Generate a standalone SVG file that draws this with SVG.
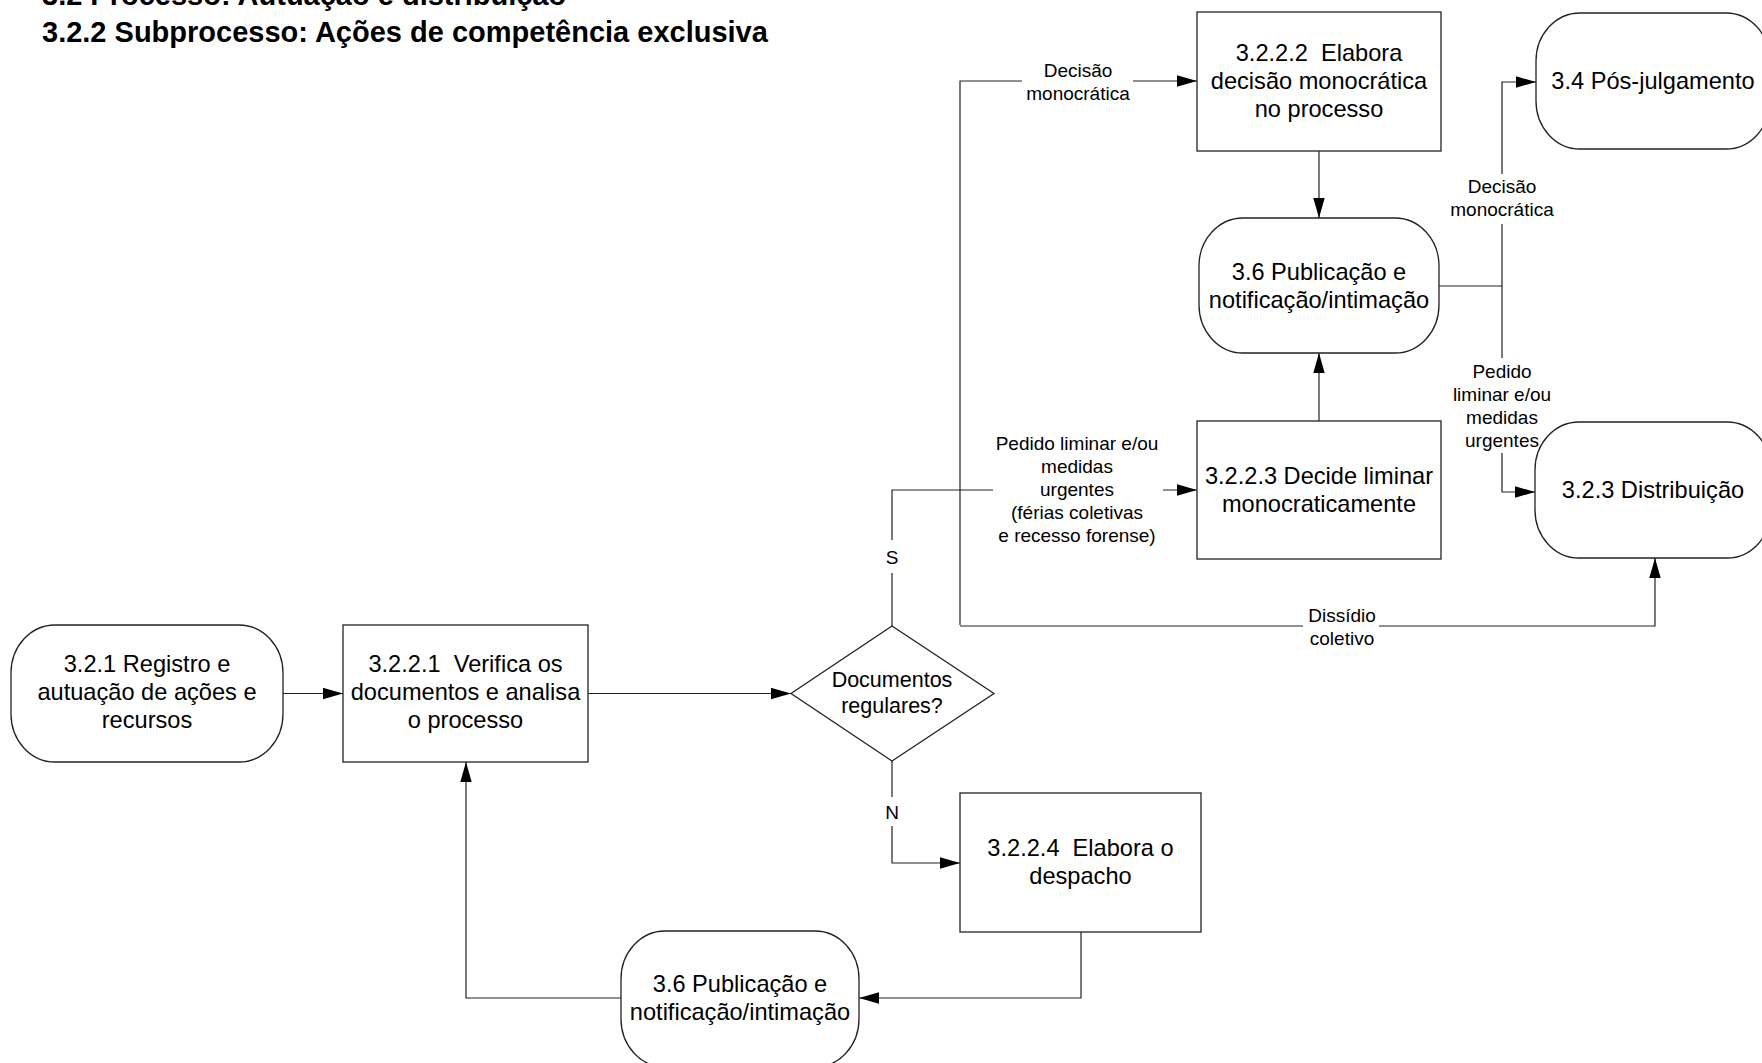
<svg xmlns="http://www.w3.org/2000/svg" width="1762" height="1063" viewBox="0 0 1762 1063">
<defs>
<style>
.node{fill:#fff;stroke:#222;stroke-width:1.3}
.t{font-family:"Liberation Sans",Arial,sans-serif;font-size:23.6px;fill:#000;text-anchor:middle}
.td{font-family:"Liberation Sans",Arial,sans-serif;font-size:21.5px;fill:#000;text-anchor:middle}
.lb{font-family:"Liberation Sans",Arial,sans-serif;font-size:19px;fill:#000;text-anchor:middle}
.title{font-family:"Liberation Sans",Arial,sans-serif;font-size:29px;font-weight:bold;fill:#000}
.c{fill:none;stroke:#222;stroke-width:1.2}
</style>
<marker id="arr" markerUnits="userSpaceOnUse" markerWidth="20" markerHeight="12" refX="20" refY="6" orient="auto">
<path d="M0,0.3 L20,6 L0,11.7 z" fill="#000"/>
</marker>
</defs>
<rect width="1762" height="1063" fill="#fff"/>
<g id="title">
<text class="title" x="42" y="5">3.2 Processo: Autuação e distribuição</text>
<text class="title" x="42" y="42">3.2.2 Subprocesso: Ações de competência exclusiva</text>
</g>
<g id="connectors">
<path class="c" d="M283,693.5 H343" marker-end="url(#arr)"/>
<path class="c" d="M588,693.5 H791" marker-end="url(#arr)"/>
<path class="c" d="M892,626 V573"/>
<path class="c" d="M892,540 V490 H993"/>
<path class="c" d="M1163,490 H1197" marker-end="url(#arr)"/>
<path class="c" d="M960,625 V81 H1022"/>
<path class="c" d="M1133,81 H1197" marker-end="url(#arr)"/>
<path class="c" d="M960,626 H1303"/>
<path class="c" d="M1379,626 H1655 V558" marker-end="url(#arr)"/>
<path class="c" d="M892,761 V797"/>
<path class="c" d="M892,826 V863 H960" marker-end="url(#arr)"/>
<path class="c" d="M1081,932 V998 H859" marker-end="url(#arr)"/>
<path class="c" d="M621,998 H466 V762" marker-end="url(#arr)"/>
<path class="c" d="M1319,151 V218" marker-end="url(#arr)"/>
<path class="c" d="M1319,421 V353" marker-end="url(#arr)"/>
<path class="c" d="M1439,286 H1502"/>
<path class="c" d="M1502,174 V82 H1536" marker-end="url(#arr)"/>
<path class="c" d="M1502,224 V358"/>
<path class="c" d="M1502,453 V492 H1535" marker-end="url(#arr)"/>
</g>
<g id="labels">
<text class="lb" x="1078" y="76.5">Decisão</text>
<text class="lb" x="1078" y="99.5">monocrática</text>
<text class="lb" x="1077" y="450">Pedido liminar e/ou</text>
<text class="lb" x="1077" y="473">medidas</text>
<text class="lb" x="1077" y="496">urgentes</text>
<text class="lb" x="1077" y="519">(férias coletivas</text>
<text class="lb" x="1077" y="542">e recesso forense)</text>
<text class="lb" x="1342" y="621.5">Dissídio</text>
<text class="lb" x="1342" y="644.5">coletivo</text>
<text class="lb" x="1502" y="193">Decisão</text>
<text class="lb" x="1502" y="216">monocrática</text>
<text class="lb" x="1502" y="378">Pedido</text>
<text class="lb" x="1502" y="401">liminar e/ou</text>
<text class="lb" x="1502" y="424">medidas</text>
<text class="lb" x="1502" y="447">urgentes</text>
<text class="lb" x="892" y="564">S</text>
<text class="lb" x="892" y="819">N</text>
</g>
<g id="n321">
<rect class="node" x="11" y="625" width="272" height="137" rx="44" ry="48"/>
<text class="t" x="147" y="672">3.2.1 Registro e</text>
<text class="t" x="147" y="700">autuação de ações e</text>
<text class="t" x="147" y="728">recursos</text>
</g>
<g id="n3221">
<rect class="node" x="343" y="625" width="245" height="137"/>
<text class="t" x="465.5" y="672" xml:space="preserve">3.2.2.1  Verifica os</text>
<text class="t" x="465.5" y="700">documentos e analisa</text>
<text class="t" x="465.5" y="728">o processo</text>
</g>
<g id="decision">
<path class="node" d="M892,626 L994,693.5 L892,761 L791,693.5 Z"/>
<text class="td" x="892" y="687">Documentos</text>
<text class="td" x="892" y="713">regulares?</text>
</g>
<g id="n3224">
<rect class="node" x="960" y="793" width="241" height="139"/>
<text class="t" x="1080.5" y="856" xml:space="preserve">3.2.2.4  Elabora o</text>
<text class="t" x="1080.5" y="884">despacho</text>
</g>
<g id="n36b">
<rect class="node" x="621" y="931" width="238" height="136" rx="44" ry="48"/>
<text class="t" x="740" y="991.5">3.6 Publicação e</text>
<text class="t" x="740" y="1019.5">notificação/intimação</text>
</g>
<g id="n3222">
<rect class="node" x="1197" y="12" width="244" height="139"/>
<text class="t" x="1319" y="61" xml:space="preserve">3.2.2.2  Elabora</text>
<text class="t" x="1319" y="89">decisão monocrática</text>
<text class="t" x="1319" y="117">no processo</text>
</g>
<g id="n36t">
<rect class="node" x="1199" y="218" width="240" height="135" rx="44" ry="48"/>
<text class="t" x="1319" y="279.5">3.6 Publicação e</text>
<text class="t" x="1319" y="307.5">notificação/intimação</text>
</g>
<g id="n3223">
<rect class="node" x="1197" y="421" width="244" height="138"/>
<text class="t" x="1319" y="484">3.2.2.3 Decide liminar</text>
<text class="t" x="1319" y="512">monocraticamente</text>
</g>
<g id="n34">
<rect class="node" x="1536" y="13" width="234" height="136" rx="44" ry="48"/>
<text class="t" x="1653" y="89">3.4 Pós-julgamento</text>
</g>
<g id="n323">
<rect class="node" x="1535" y="422" width="236" height="136" rx="44" ry="48"/>
<text class="t" x="1653" y="498">3.2.3 Distribuição</text>
</g>
</svg>
